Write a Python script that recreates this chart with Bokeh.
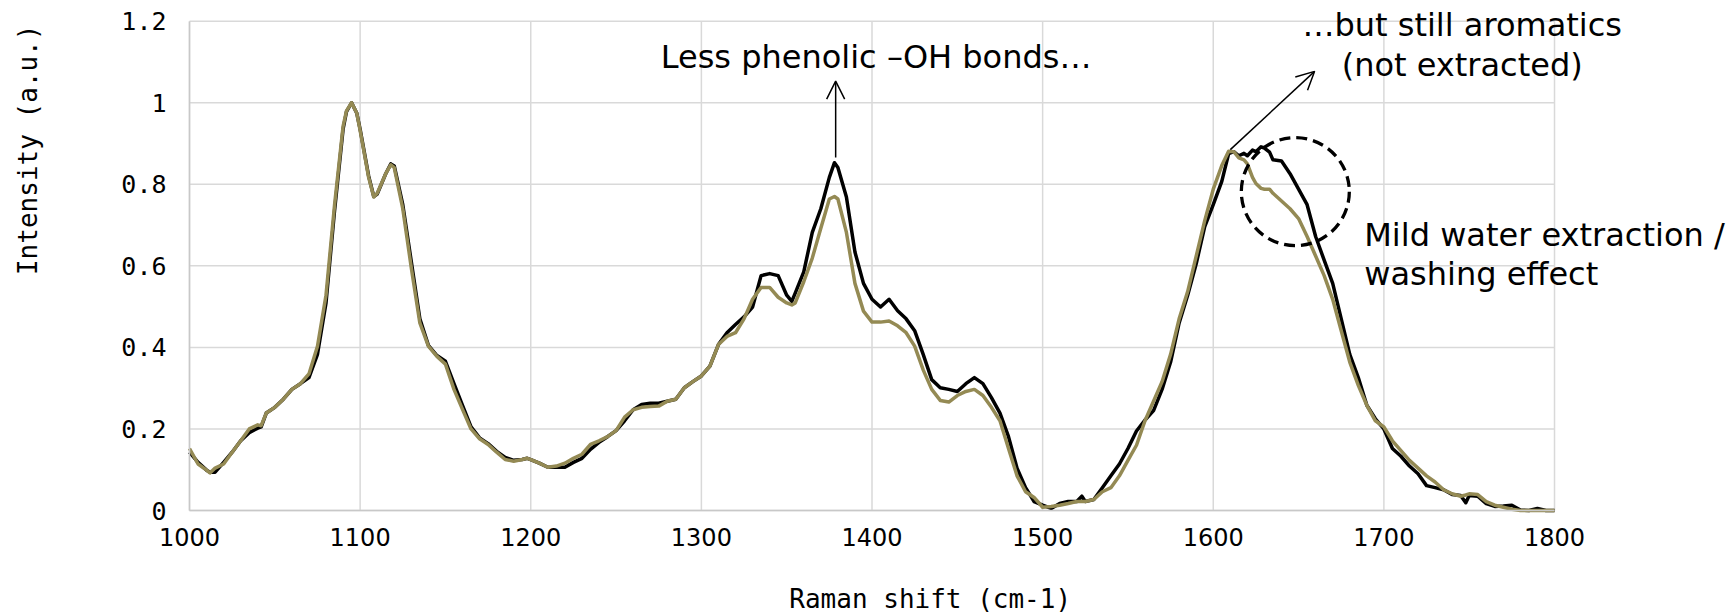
from math import pi
from bokeh.plotting import figure
from bokeh.models import Range1d, FixedTicker, Label, Arrow, OpenHead
from bokeh.embed import file_html
from bokeh.resources import INLINE

# Raman shift (cm-1)
shift = [1000, 1005, 1010, 1012, 1015, 1020, 1025, 1030, 1035, 1040, 1042, 1045, 1050, 1055, 1060, 1065,
         1070, 1075, 1080, 1085, 1090, 1092, 1095, 1098, 1100, 1105, 1108, 1110, 1115, 1118, 1120, 1125, 1130, 1135,
         1140, 1145, 1150, 1155, 1160, 1165, 1170, 1175, 1180, 1185, 1190, 1195, 1198, 1200, 1205, 1210,
         1215, 1220, 1225, 1230, 1235, 1240, 1245, 1250, 1255, 1260, 1265, 1270, 1275, 1280, 1285, 1290,
         1295, 1300, 1305, 1310, 1315, 1320, 1325, 1330, 1335, 1340, 1345, 1350, 1353, 1355, 1360, 1365,
         1370, 1375, 1378, 1380, 1385, 1390, 1395, 1400, 1405, 1410, 1415, 1420, 1425, 1430, 1435, 1440,
         1445, 1450, 1455, 1460, 1465, 1470, 1475, 1480, 1485, 1490, 1495, 1500, 1505, 1510, 1515, 1520,
         1523, 1525, 1530, 1535, 1540, 1545, 1550, 1555, 1560, 1565, 1570, 1575, 1580, 1585, 1590, 1595,
         1600, 1605, 1609, 1612, 1615, 1618, 1620, 1623, 1625, 1628, 1630, 1633, 1635, 1640, 1645, 1650,
         1655, 1660, 1665, 1670, 1675, 1680, 1685, 1690, 1695, 1700, 1705, 1710, 1715, 1720, 1725, 1730,
         1735, 1740, 1745, 1748, 1750, 1755, 1760, 1765, 1770, 1775, 1780, 1785, 1790, 1795, 1800]

# black spectrum (before washing)
original = [0.143, 0.118, 0.099, 0.094, 0.094, 0.118, 0.143, 0.171, 0.191, 0.202, 0.205, 0.239, 0.253, 0.273, 0.297, 0.311,
            0.326, 0.383, 0.509, 0.735, 0.935, 0.978, 1.000, 0.975, 0.935, 0.820, 0.770, 0.776, 0.826, 0.850, 0.845, 0.750, 0.610, 0.470,
            0.405, 0.380, 0.366, 0.311, 0.258, 0.205, 0.178, 0.164, 0.145, 0.130, 0.123, 0.125, 0.128, 0.125, 0.116, 0.106,
            0.106, 0.106, 0.118, 0.128, 0.150, 0.167, 0.181, 0.196, 0.220, 0.247, 0.260, 0.263, 0.263, 0.268, 0.273, 0.301,
            0.316, 0.330, 0.354, 0.407, 0.436, 0.456, 0.475, 0.499, 0.576, 0.581, 0.576, 0.528, 0.513, 0.533, 0.585, 0.682,
            0.740, 0.817, 0.853, 0.841, 0.769, 0.634, 0.557, 0.518, 0.499, 0.518, 0.490, 0.470, 0.441, 0.383, 0.321, 0.301,
            0.297, 0.292, 0.311, 0.326, 0.311, 0.277, 0.239, 0.181, 0.104, 0.056, 0.022, 0.013, 0.005, 0.017, 0.022, 0.022,
            0.035, 0.022, 0.027, 0.056, 0.085, 0.114, 0.152, 0.195, 0.222, 0.245, 0.297, 0.364, 0.460, 0.528, 0.605, 0.696,
            0.750, 0.807, 0.875, 0.880, 0.870, 0.876, 0.870, 0.884, 0.880, 0.892, 0.889, 0.879, 0.860, 0.857, 0.826, 0.788,
            0.750, 0.672, 0.614, 0.557, 0.470, 0.383, 0.326, 0.258, 0.225, 0.200, 0.152, 0.133, 0.109, 0.090, 0.061, 0.056,
            0.051, 0.039, 0.037, 0.019, 0.037, 0.035, 0.017, 0.010, 0.011, 0.013, 0.001, 0.000, 0.005, 0.000, 0.000]

# olive spectrum (after mild water extraction / washing)
washed = [0.152, 0.114, 0.099, 0.092, 0.104, 0.114, 0.143, 0.171, 0.200, 0.210, 0.208, 0.239, 0.253, 0.273, 0.297, 0.311,
          0.335, 0.403, 0.528, 0.749, 0.942, 0.980, 1.000, 0.975, 0.932, 0.817, 0.769, 0.778, 0.826, 0.848, 0.841, 0.740, 0.595, 0.460,
          0.403, 0.378, 0.359, 0.297, 0.248, 0.200, 0.176, 0.162, 0.143, 0.125, 0.121, 0.125, 0.128, 0.125, 0.116, 0.106,
          0.109, 0.116, 0.128, 0.138, 0.162, 0.171, 0.181, 0.196, 0.229, 0.247, 0.253, 0.255, 0.256, 0.268, 0.273, 0.301,
          0.316, 0.330, 0.354, 0.407, 0.427, 0.436, 0.470, 0.518, 0.547, 0.547, 0.523, 0.509, 0.504, 0.509, 0.561, 0.619,
          0.692, 0.764, 0.770, 0.764, 0.682, 0.557, 0.489, 0.462, 0.462, 0.465, 0.453, 0.436, 0.403, 0.345, 0.297, 0.270,
          0.266, 0.282, 0.292, 0.297, 0.282, 0.253, 0.220, 0.152, 0.085, 0.046, 0.032, 0.008, 0.010, 0.013, 0.017, 0.022,
          0.022, 0.022, 0.027, 0.046, 0.056, 0.085, 0.123, 0.160, 0.220, 0.268, 0.316, 0.383, 0.470, 0.537, 0.624, 0.711,
          0.788, 0.846, 0.881, 0.880, 0.865, 0.860, 0.850, 0.817, 0.802, 0.790, 0.788, 0.788, 0.778, 0.759, 0.740, 0.716,
          0.672, 0.624, 0.576, 0.518, 0.441, 0.364, 0.307, 0.258, 0.220, 0.205, 0.171, 0.147, 0.123, 0.104, 0.085, 0.070,
          0.051, 0.041, 0.035, 0.038, 0.041, 0.039, 0.022, 0.013, 0.008, 0.003, 0.000, 0.000, 0.000, 0.000, 0.000]

x_ticks = [1000, 1100, 1200, 1300, 1400, 1500, 1600, 1700, 1800]
y_ticks = [0, 0.2, 0.4, 0.6, 0.8, 1.0, 1.2]
y_tick_labels = ["0", "0.2", "0.4", "0.6", "0.8", "1", "1.2"]

x_title = "Raman shift (cm-1)"
y_title = "Intensity (a.u.)"
note_peak = "Less phenolic \u2013OH bonds\u2026"
note_arom_1 = "\u2026but still aromatics"
note_arom_2 = "(not extracted)"
note_wash_1 = "Mild water extraction /"
note_wash_2 = "washing effect"

BLACK = "#000000"
OLIVE = "#948A54"
GRID = "#D9D9D9"

x_lo, x_hi = x_ticks[0], x_ticks[-1]
y_lo, y_hi = y_ticks[0], y_ticks[-1]

# The frame covers the whole canvas so that the notes and titles placed
# around the data area are not clipped; axes sit at fixed data locations.
p = figure(width=1734, height=616, output_backend="svg", toolbar_location=None,
           x_range=Range1d(889.23, 1905.49), y_range=Range1d(-0.25996, 1.25077),
           min_border_left=0, min_border_right=0, min_border_top=0, min_border_bottom=0)
p.outline_line_color = None
p.background_fill_color = "white"
p.border_fill_color = "white"
p.xgrid.visible = False
p.ygrid.visible = False

# gridlines from the tick arrays
p.segment(x0=x_ticks, y0=[y_lo] * len(x_ticks), x1=x_ticks, y1=[y_hi] * len(x_ticks),
          line_color=GRID, line_width=1.5)
p.segment(x0=[x_lo] * len(y_ticks), y0=y_ticks, x1=[x_hi] * len(y_ticks), y1=y_ticks,
          line_color=GRID, line_width=1.5)

xa = p.xaxis[0]
ya = p.yaxis[0]
xa.fixed_location = y_lo
ya.fixed_location = x_lo
xa.bounds = (x_lo, x_hi)
ya.bounds = (y_lo, y_hi)
xa.ticker = FixedTicker(ticks=x_ticks)
ya.ticker = FixedTicker(ticks=y_ticks)
ya.major_label_overrides = {t: s for t, s in zip(y_ticks, y_tick_labels)}

for ax in (xa, ya):
    ax.major_tick_line_color = None
    ax.minor_tick_line_color = None
    ax.major_tick_out = 0
    ax.major_tick_in = 0
    ax.axis_line_color = "#C8C8C8"
    ax.axis_line_width = 1.5
    ax.major_label_text_color = "#000000"

xa.major_label_text_font = "DejaVu Sans"
xa.major_label_text_font_size = "24px"
xa.major_label_standoff = 17
ya.major_label_text_font = "DejaVu Sans Mono"
ya.major_label_text_font_size = "25px"
ya.major_label_standoff = 23

p.line(shift, original, line_color=BLACK, line_width=3.5, line_join="round")
p.line(shift, washed, line_color=OLIVE, line_width=3.5, line_join="round")

# dashed circle around the 1620-1660 shoulder
p.scatter([1648.1], [0.782], marker="circle", size=108, fill_alpha=0,
          line_color=BLACK, line_width=3.3, line_dash="11 6")

# arrows
p.add_layout(Arrow(x_start=1378.7, y_start=0.866, x_end=1378.7, y_end=1.053,
                   line_width=1.5, line_color=BLACK,
                   end=OpenHead(size=18, line_width=1.5, line_color=BLACK)))
p.add_layout(Arrow(x_start=1610.0, y_start=0.885, x_end=1659.4, y_end=1.077,
                   line_width=1.5, line_color=BLACK,
                   end=OpenHead(size=18, line_width=1.5, line_color=BLACK)))


def note(x, y, text, align="center", font="DejaVu Sans", size="32px", angle=0.0, baseline="alphabetic"):
    p.add_layout(Label(x=x, y=y, text=text, text_align=align, text_baseline=baseline,
                       text_font=font, text_font_size=size, text_color=BLACK, angle=angle))


note(1402.4, 1.111, note_peak)
note(1745.9, 1.1912, note_arom_1)
note(1745.9, 1.093, note_arom_2)
note(1688.5, 0.6756, note_wash_1, align="left")
note(1688.5, 0.579, note_wash_2, align="left")

# axis titles
note(1434.1, -0.2175, x_title, font="DejaVu Sans Mono", size="26px")
note(905.6, 0.8846, y_title, font="DejaVu Sans Mono", size="26px", angle=pi / 2, baseline="middle")

open("out.html", "w").write(file_html(p, INLINE))
